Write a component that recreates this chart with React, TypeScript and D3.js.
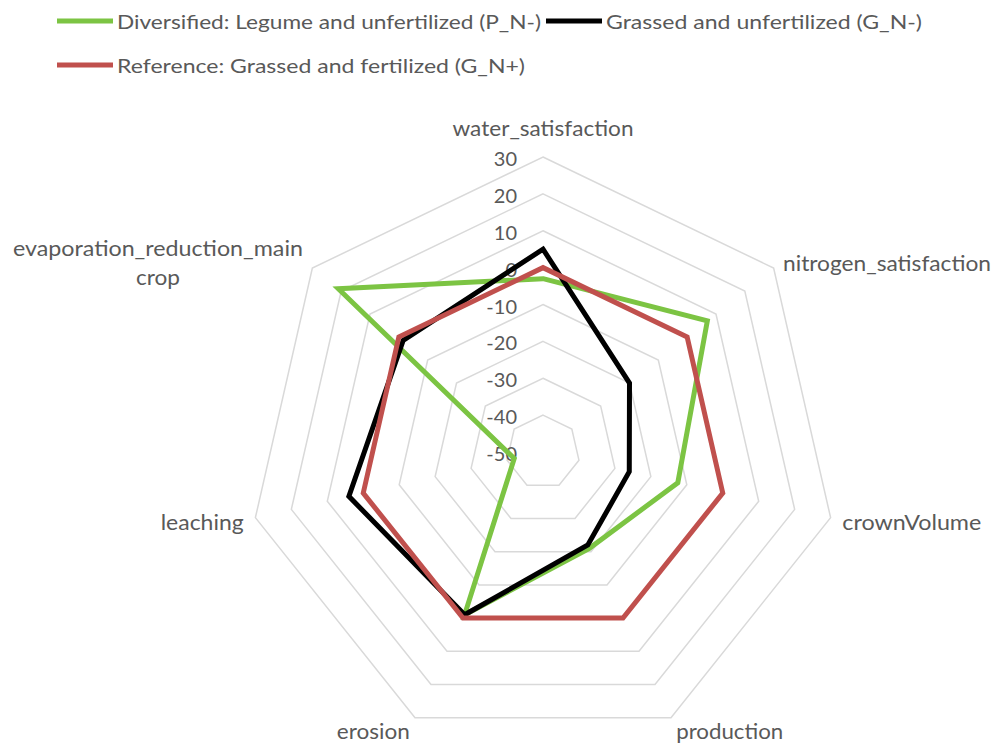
import React from "react";
import * as d3 from "d3";

const axes = [
  "water_satisfaction",
  "nitrogen_satisfaction",
  "crownVolume",
  "production",
  "erosion",
  "leaching",
  "evaporation_reduction_main crop",
];

const seriesNames = [
  "Diversified: Legume and unfertilized (P_N-)",
  "Grassed and unfertilized (G_N-)",
  "Reference: Grassed and fertilized (G_N+)",
];

const diversified = [-3, 7, -12.5, -21, -1, -42, 21];
const grassedUnfert = [5, -20, -26, -22, -1, 4, -1.5];
const reference = [0, 0, 0, 0, 0, 0, 0];

const tickValues = [-50, -40, -30, -20, -10, 0, 10, 20, 30];

// layout (measured text widths in the reference)
const axisLabelWidths = [181, 208, 139, 107, 73, 83, 290];
const cropWidth = 44;
const legendWidths = [424, 316, 408];

const W = 999;
const H = 744;
const CX = 543;
const CY = 452;
const R = 295;
const FONT = "Lato, 'Open Sans', sans-serif";
const TEXT = "#595959";
const colors = ["#7cc443", "#000000", "#c0504d"];

export default function App() {
  const r = d3.scaleLinear().domain([-50, 30]).range([0, R]);
  const angle = d3
    .scaleLinear()
    .domain([0, axes.length])
    .range([0, 2 * Math.PI]);

  const ringPath = (v: number) =>
    d3
      .lineRadial<number>()
      .angle((_, i) => angle(i))
      .radius(() => r(v))
      .curve(d3.curveLinearClosed)(axes.map(() => v)) || "";

  const seriesPath = (vals: number[]) =>
    d3
      .lineRadial<number>()
      .angle((_, i) => angle(i))
      .radius((d) => r(d))
      .curve(d3.curveLinearClosed)(vals) || "";

  const polar = (i: number, rad: number) => {
    const a = angle(i) - Math.PI / 2;
    return [CX + rad * Math.cos(a), CY + rad * Math.sin(a)];
  };

  const allSeries = [diversified, grassedUnfert, reference];

  const labels = axes.map((name, i) => {
    const [x, y] = polar(i, R + 12);
    const tl = axisLabelWidths[i];
    if (i === 0) {
      return (
        <text key={i} x={x} y={y - 17} textAnchor="middle" dominantBaseline="central"
          textLength={tl} lengthAdjust="spacingAndGlyphs">
          {name}
        </text>
      );
    }
    if (i === 6) {
      const parts = name.split(" ");
      const cxl = x - tl / 2;
      return (
        <g key={i}>
          <text x={cxl} y={y - 13} textAnchor="middle" dominantBaseline="central"
            textLength={tl} lengthAdjust="spacingAndGlyphs">{parts[0]}</text>
          <text x={cxl} y={y + 16} textAnchor="middle" dominantBaseline="central"
            textLength={cropWidth} lengthAdjust="spacingAndGlyphs">{parts[1]}</text>
        </g>
      );
    }
    const anchor = x > CX ? "start" : "end";
    return (
      <text key={i} x={x} y={y + 2} textAnchor={anchor} dominantBaseline="central"
        textLength={tl} lengthAdjust="spacingAndGlyphs">
        {name}
      </text>
    );
  });

  return (
    <svg
      width={W}
      height={H}
      style={{ position: "absolute", left: 0, top: 0, background: "#fff" }}
      fontFamily={FONT}
    >
      <rect width={W} height={H} fill="#fff" />
      {/* legend */}
      <g fontSize={20} fill={TEXT}>
        <line x1={57} x2={113} y1={21} y2={21} stroke={colors[0]} strokeWidth={5} />
        <text x={117} y={21} dominantBaseline="central" textLength={legendWidths[0]} lengthAdjust="spacingAndGlyphs">
          {seriesNames[0]}
        </text>
        <line x1={546} x2={602} y1={21} y2={21} stroke={colors[1]} strokeWidth={5} />
        <text x={606} y={21} dominantBaseline="central" textLength={legendWidths[1]} lengthAdjust="spacingAndGlyphs">
          {seriesNames[1]}
        </text>
        <line x1={57} x2={113} y1={65} y2={65} stroke={colors[2]} strokeWidth={5} />
        <text x={117} y={65} dominantBaseline="central" textLength={legendWidths[2]} lengthAdjust="spacingAndGlyphs">
          {seriesNames[2]}
        </text>
      </g>
      {/* grid */}
      <g transform={`translate(${CX},${CY})`}>
        {tickValues
          .filter((v) => v > -50)
          .map((v) => (
            <path key={v} d={ringPath(v)} fill="none" stroke="#d9d9d9" strokeWidth={1.5} />
          ))}
      </g>
      {/* tick labels */}
      <g fontSize={20} fill={TEXT}>
        {tickValues.map((v) => (
          <text key={v} x={CX - 26} y={CY - r(v) + 1} textAnchor="end" dominantBaseline="central">
            {v}
          </text>
        ))}
      </g>
      {/* series */}
      <g transform={`translate(${CX},${CY})`}>
        {allSeries.map((s, i) => (
          <path
            key={i}
            d={seriesPath(s)}
            fill="none"
            stroke={colors[i]}
            strokeWidth={5}
            strokeLinejoin="miter"
          />
        ))}
      </g>
      {/* axis labels */}
      <g fontSize={20.5} fill={TEXT}>{labels}</g>
    </svg>
  );
}
